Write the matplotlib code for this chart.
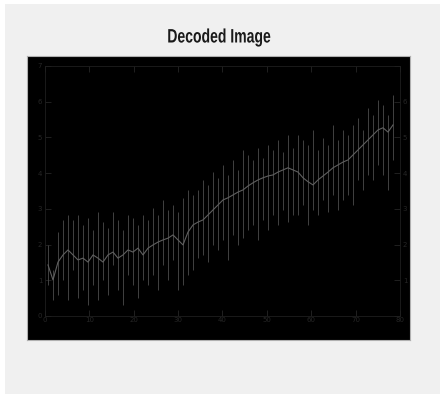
import numpy as np
import matplotlib.pyplot as plt
from matplotlib.patches import Rectangle
from matplotlib.patheffects import AbstractPathEffect
from matplotlib.transforms import Affine2D

# decoded signal, one value per sample
trend = [1.43, 1.01, 1.51, 1.71, 1.85, 1.71, 1.57, 1.62, 1.51, 1.71,
         1.62, 1.51, 1.71, 1.79, 1.62, 1.71, 1.85, 1.79, 1.90, 1.71,
         1.90, 1.99, 2.07, 2.13, 2.18, 2.27, 2.13, 1.99, 2.35, 2.55,
         2.63, 2.69, 2.83, 2.97, 3.11, 3.25, 3.31, 3.39, 3.47, 3.53,
         3.64, 3.73, 3.81, 3.87, 3.92, 3.95, 4.03, 4.09, 4.15, 4.09,
         4.03, 3.87, 3.76, 3.67, 3.81, 3.92, 4.03, 4.15, 4.23, 4.31,
         4.37, 4.51, 4.65, 4.79, 4.93, 5.07, 5.21, 5.27, 5.15, 5.35]
spike_hi = [1.99, 1.29, 2.35, 2.69, 2.83, 2.69, 2.83, 2.55, 2.75, 2.41,
            2.91, 2.63, 2.46, 2.91, 2.69, 2.41, 2.83, 2.75, 2.55, 2.83,
            2.69, 3.03, 2.83, 3.25, 2.97, 3.11, 2.91, 3.31, 3.53, 3.39,
            3.53, 3.81, 3.67, 4.03, 3.87, 4.23, 3.95, 4.37, 4.09, 4.65,
            4.51, 4.37, 4.71, 4.43, 4.79, 4.65, 4.93, 4.59, 5.07, 4.71,
            5.07, 4.93, 4.79, 5.21, 4.65, 4.99, 4.79, 5.35, 4.93, 5.21,
            5.07, 5.35, 5.55, 5.21, 5.83, 5.63, 6.05, 5.91, 5.63, 6.19]
spike_lo = [0.87, 0.45, 0.59, 1.01, 0.45, 1.29, 0.50, 0.73, 0.31, 0.87,
            0.45, 1.01, 0.59, 1.43, 0.73, 0.31, 1.15, 0.87, 0.50, 1.01,
            0.87, 1.15, 0.73, 1.43, 1.01, 1.57, 0.73, 0.87, 1.15, 1.29,
            1.62, 1.71, 1.51, 1.99, 1.85, 2.13, 1.57, 2.27, 1.99, 2.18,
            2.41, 2.55, 2.13, 2.69, 2.41, 2.83, 2.55, 2.97, 2.63, 2.83,
            2.83, 3.11, 2.55, 2.97, 2.83, 3.25, 2.91, 3.39, 2.97, 3.25,
            3.39, 3.11, 3.81, 3.53, 3.95, 3.81, 4.23, 3.95, 3.53, 4.37]
x_labels = ['0', '10', '20', '30', '40', '50', '60', '70', '80']
y_labels = ['0', '1', '2', '3', '4', '5', '6', '7']

W, H = 446, 394
fig = plt.figure(figsize=(W / 100, H / 100), dpi=100, facecolor='white')
fig.patches.append(Rectangle((5 / W, 0), 435 / W, 390 / H, transform=fig.transFigure,
                             facecolor='#f0f0f0', edgecolor='none', zorder=-1))

def box(l, t, r, b):
    return [l / W, 1 - b / H, (r - l) / W, (b - t) / H]

# the image frame
img = fig.add_axes(box(27, 56, 410, 340))
img.set_facecolor('black')
img.set_xticks([])
img.set_yticks([])
for s in img.spines.values():
    s.set_color('#b0b0b0')
    s.set_linewidth(0.8)

# the plot that shows inside the decoded image
ax = fig.add_axes(box(45, 66, 400, 316))
ax.patch.set_alpha(0)
n = np.arange(len(trend))
ax.vlines(n, spike_lo, spike_hi, color='#4c4c4c', lw=0.6)
ax.plot(n, trend, color='#606060', lw=0.8)
ax.set_xlim(-0.6, 70.4)
ax.set_ylim(0, 7)
ax.set_xticks(np.arange(9) * 8.875 - 0.6)
ax.set_xticklabels(x_labels)
ax.set_yticks(range(8))
ax.set_yticklabels(y_labels)
ax.tick_params(direction='in', length=4, width=0.6, colors='#262626', labelsize=5,
               top=True, right=True, labelright=True)
ax.tick_params(axis='x', pad=1)
ax.tick_params(axis='y', pad=2)
yt = ax.yaxis.get_major_ticks()
yt[0].label2.set_visible(False)
yt[-1].label2.set_visible(False)
for s in ax.spines.values():
    s.set_color('#1e1e1e')
    s.set_linewidth(0.6)


# squeeze the title sideways like the condensed font in the picture
class Squeeze(AbstractPathEffect):
    def __init__(self, sx, cx):
        super().__init__()
        self.sx, self.cx = sx, cx

    def draw_path(self, renderer, gc, tpath, affine, rgbFace=None):
        squeeze = Affine2D().translate(-self.cx, 0).scale(self.sx, 1).translate(self.cx, 0)
        renderer.draw_path(gc, tpath, affine + squeeze, rgbFace)


title = fig.text(219 / W, 1 - 38 / H, 'Decoded Image', ha='center', va='center',
                 family='Liberation Sans', weight='bold', fontsize=14, color='#1a1a1a')
title.set_path_effects([Squeeze(0.72, 219)])

fig.savefig('out.png', dpi=100, facecolor=fig.get_facecolor())
